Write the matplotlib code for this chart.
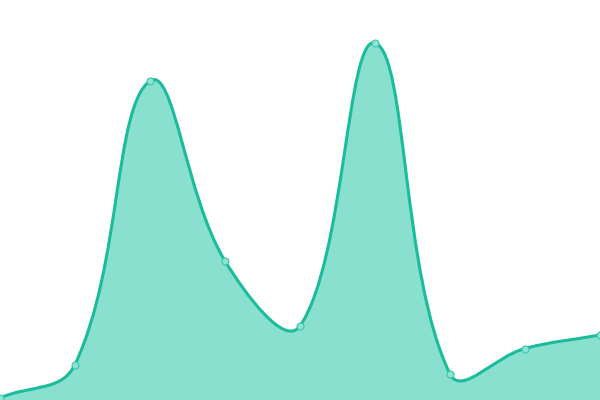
import numpy as np
import matplotlib
matplotlib.use('Agg')
import matplotlib.pyplot as plt
from matplotlib.path import Path
from matplotlib.patches import PathPatch

# Data (one value per category)
labels = ['A', 'B', 'C', 'D', 'E', 'F', 'G', 'H', 'I']
values = [2, 35.5, 319, 139, 74, 357, 26, 51.5, 65]

line_color = '#1abc9c'
fill_color = '#8ae0cf'
tension = 0.4

fig = plt.figure(figsize=(6, 4), dpi=100)
ax = fig.add_axes([0, 0, 1, 1])
ax.set_xlim(0, len(labels) - 1)
ax.set_ylim(0, 400)
ax.axis('off')

x = np.arange(len(labels))
pts = ax.transData.transform(np.column_stack([x, values]))

# Chart.js-style cardinal spline control points, computed in pixel space
verts = [pts[0]]
codes = [Path.MOVETO]
n = len(pts)
ctrl_prev = [None] * n
ctrl_next = [None] * n
for i in range(n):
    prev = pts[i - 1] if i > 0 else pts[i]
    cur = pts[i]
    nxt = pts[i + 1] if i < n - 1 else pts[i]
    d01 = np.hypot(*(cur - prev))
    d12 = np.hypot(*(nxt - cur))
    tot = d01 + d12
    s01 = d01 / tot if tot else 0
    s12 = d12 / tot if tot else 0
    ctrl_prev[i] = cur - tension * s01 * (nxt - prev)
    ctrl_next[i] = cur + tension * s12 * (nxt - prev)
for i in range(1, n):
    verts += [ctrl_next[i - 1], ctrl_prev[i], pts[i]]
    codes += [Path.CURVE4] * 3

inv = ax.transData.inverted()
data_verts = inv.transform(np.array(verts))
curve = Path(data_verts, codes)

fill_verts = list(data_verts) + [(x[-1], 0), (x[0], 0), data_verts[0]]
fill_codes = codes + [Path.LINETO, Path.LINETO, Path.CLOSEPOLY]
ax.add_patch(PathPatch(Path(fill_verts, fill_codes), facecolor=fill_color,
                       edgecolor='none', zorder=1))
ax.add_patch(PathPatch(curve, facecolor='none', edgecolor=line_color,
                       linewidth=2.2, capstyle='round', joinstyle='round', zorder=2))
ax.plot(x, values, 'o', markersize=5, markerfacecolor='#8ee3d2',
        markeredgecolor='#3cc6a9', markeredgewidth=0.8, zorder=3, clip_on=False)

fig.savefig('out.png', dpi=100)
